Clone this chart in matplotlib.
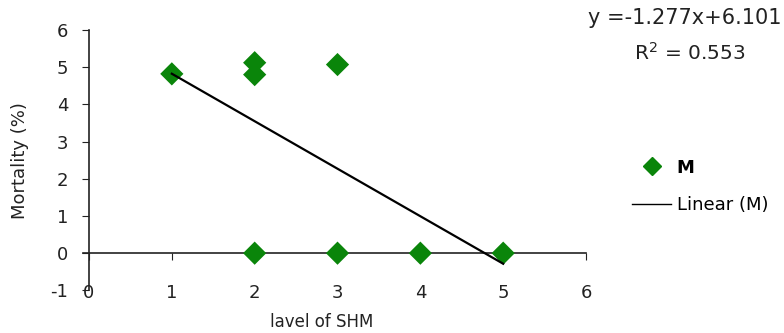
"""Mortality vs level of SHM, scatter with linear trend (Excel-style)."""

import numpy as np
import matplotlib
matplotlib.use("Agg")
import matplotlib.pyplot as plt
from matplotlib.lines import Line2D

# data
shm_level = [1, 2, 2, 2, 3, 3, 4, 5]
mortality = [4.82, 5.12, 4.80, 0.0, 5.07, 0.0, 0.0, 0.0]
trend_slope = -1.277
trend_intercept = 6.101
r_squared = 0.553

x_ticks = [0, 1, 2, 3, 4, 5, 6]
y_ticks = [-1, 0, 1, 2, 3, 4, 5, 6]

GREEN = "#0a850a"
INK = "#222222"

plt.rcParams["font.family"] = ["DejaVu Sans"]
plt.rcParams["axes.unicode_minus"] = False

fig = plt.figure(figsize=(7.84, 3.33), dpi=100)
fig.patch.set_facecolor("white")
ax = fig.add_axes([0.1135, 0.128, 0.634, 0.782])

ax.scatter(shm_level, mortality, marker="D", s=140, color=GREEN,
           edgecolors="none", zorder=3)

tx = np.array([min(shm_level), max(shm_level)])
ax.plot(tx, trend_slope * tx + trend_intercept, color="black", lw=1.6, zorder=4)

ax.set_xlim(0, 6)
ax.set_ylim(-1, 6)
ax.set_xticks(x_ticks)
ax.set_yticks(y_ticks)

for side in ("top", "right"):
    ax.spines[side].set_visible(False)
ax.spines["bottom"].set_position(("data", 0))
ax.spines["bottom"].set_bounds(-0.07, 6)
ax.spines["bottom"].set_color(INK)
ax.spines["left"].set_color(INK)
ax.spines["bottom"].set_linewidth(1.2)
ax.spines["left"].set_linewidth(1.2)

ax.tick_params(axis="x", direction="out", length=5, pad=17, labelsize=13,
               colors=INK)
ax.tick_params(axis="y", direction="out", length=5, pad=10, labelsize=13,
               colors=INK)

ax.set_ylabel("Mortality (%)", fontsize=13, color=INK, labelpad=15)
fig.text(0.41, 0.033, "lavel of SHM", fontsize=12, color=INK,
         ha="center", va="center")

# equation + R² top right
fig.text(0.873, 0.945, f"y =-{abs(trend_slope):.3f}x+{trend_intercept:.3f}",
         fontsize=15, color=INK, ha="center", va="center")
fig.text(0.88, 0.84, f"R$^2$ = {r_squared:.3f}",
         fontsize=14.5, color=INK, ha="center", va="center")

handles = [
    Line2D([], [], marker="D", ls="none", color=GREEN, markersize=9),
    Line2D([], [], color="black", lw=1),
]
fig.legend(handles, ["M", "Linear (M)"], loc="center left",
           bbox_to_anchor=(0.785, 0.44), frameon=False, fontsize=13,
           handlelength=2.2, labelspacing=1.1, handletextpad=0.3)
leg = fig.legends[0]
leg.get_texts()[0].set_fontweight("bold")

fig.savefig("out.png", dpi=100)
